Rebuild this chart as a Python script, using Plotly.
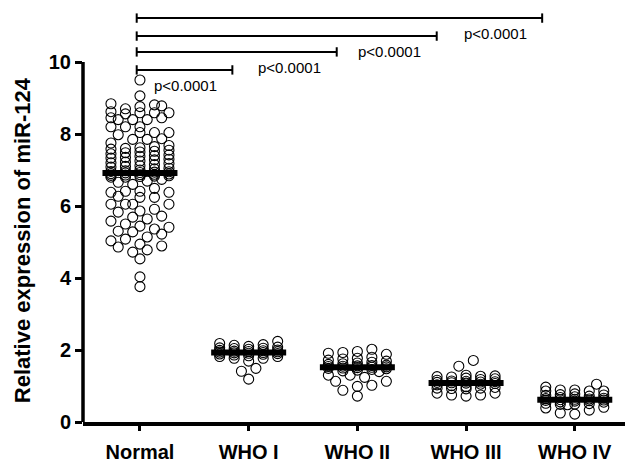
import numpy as np
import plotly.graph_objects as go

categories = ["Normal", "WHO I", "WHO II", "WHO III", "WHO IV"]

normal = [9.50, 9.06, 8.84, 8.81, 8.78, 8.76, 8.70, 8.62, 8.59, 8.59, 8.59, 8.56,
          8.45, 8.45, 8.40, 8.40, 8.40, 8.20, 8.20, 8.20, 8.04, 8.04, 8.04, 7.98,
          7.87, 7.85, 7.85,
          7.75, 7.68, 7.65, 7.62, 7.60, 7.58, 7.55, 7.52, 7.50, 7.48, 7.45, 7.42,
          7.40, 7.38, 7.35, 7.33, 7.30, 7.28, 7.25, 7.22, 7.20, 7.18, 7.15, 7.12,
          7.10, 7.08, 7.05, 7.03, 7.00, 6.98, 6.96, 6.95, 6.94, 6.93, 6.92,
          6.90, 6.89, 6.88, 6.87, 6.86, 6.85, 6.84, 6.83, 6.82, 6.80,
          6.80, 6.74, 6.69, 6.66, 6.60, 6.49, 6.41, 6.41, 6.38, 6.38, 6.27, 6.24,
          6.24, 6.05, 6.05, 6.05, 6.05, 5.91, 5.86, 5.83, 5.72, 5.69, 5.64, 5.58,
          5.50, 5.44, 5.41, 5.36, 5.30, 5.28, 5.22, 5.14, 5.08, 5.03, 4.94, 4.89,
          4.86, 4.78, 4.72, 4.53, 4.03, 3.76]
who1 = [2.24, 2.18, 2.15, 2.13, 2.10, 2.08, 2.06, 2.05, 2.04, 2.02, 2.00, 1.99,
        1.98, 1.97, 1.96, 1.95, 1.94, 1.93, 1.92, 1.91, 1.90, 1.89, 1.88, 1.86,
        1.84, 1.82, 1.82, 1.77, 1.77, 1.69, 1.49, 1.41, 1.19]
who2 = [2.02, 1.96, 1.93, 1.91, 1.88, 1.80, 1.77, 1.75, 1.72, 1.69, 1.66, 1.64,
        1.62, 1.60, 1.58, 1.57, 1.56, 1.55, 1.54, 1.53, 1.52, 1.51, 1.50, 1.49,
        1.48, 1.46, 1.44, 1.42, 1.40, 1.30, 1.30, 1.24, 1.13, 1.13, 1.02, 0.99,
        0.88, 0.72]
who3 = [1.71, 1.55, 1.30, 1.28, 1.27, 1.26, 1.25, 1.22, 1.20, 1.18, 1.16, 1.14,
        1.13, 1.12, 1.11, 1.10, 1.09, 1.08, 1.07, 1.05, 1.03, 1.01, 0.98, 0.96,
        0.94, 0.94, 0.93, 0.92, 0.80, 0.80, 0.75, 0.75, 0.72]
who4 = [1.05, 0.97, 0.89, 0.89, 0.86, 0.86, 0.86, 0.78, 0.76, 0.75, 0.74, 0.72,
        0.70, 0.68, 0.66, 0.65, 0.64, 0.63, 0.62, 0.61, 0.60, 0.59, 0.58, 0.56,
        0.55, 0.52, 0.51, 0.50, 0.49, 0.48, 0.41, 0.39, 0.33, 0.25, 0.22]
medians = [6.92, 1.93, 1.52, 1.08, 0.62]

p_labels = ["p<0.0001", "p<0.0001", "p<0.0001", "p<0.0001"]
bracket_end = [0.85, 1.81, 2.73, 3.70]
bracket_y = [9.78, 10.28, 10.72, 11.22]
y_title = "Relative expression of miR-124"

groups = [normal, who1, who2, who3, who4]

XR = [-0.524, 4.462]
YR = [0, 11.5]
PX_X = 542 / (XR[1] - XR[0])
PX_Y = 416 / (YR[1] - YR[0])


def swarm(vals, d=10.0, grid=7.25, nmax=4):
    """Simple beeswarm layout (pixel space) -> x offsets in data units."""
    vals = np.asarray(vals, dtype=float)
    ypx = vals * PX_Y
    cands = [0.0]
    for k in range(1, nmax + 1):
        cands += [k * grid, -k * grid]
    cols = [-4 * grid, -2 * grid, 0.0, 2 * grid, 4 * grid]
    placed = []
    offs = np.zeros(len(vals))
    flip = 1
    for i in np.argsort(ypx):
        best = None
        for c in cands:
            c = c * flip
            ok = all((c - px) ** 2 + (ypx[i] - py) ** 2 >= (d * 0.97) ** 2
                     for px, py in placed)
            if ok:
                best = c
                break
        if best is None:
            scores = []
            for c in cols:
                md = min(((c - px) ** 2 + (ypx[i] - py) ** 2) for px, py in placed)
                scores.append(md)
            best = cols[int(np.argmax(scores))]
        flip = -flip
        placed.append((best, ypx[i]))
        offs[i] = best
    return offs / PX_X


fig = go.Figure()
for gi, vals in enumerate(groups):
    xo = swarm(vals)
    fig.add_trace(go.Scatter(
        x=gi + xo, y=vals, mode="markers",
        marker=dict(symbol="circle-open", size=10, color="black",
                    line=dict(width=1.1, color="black")),
        showlegend=False, cliponaxis=False))

for gi, m in enumerate(medians):
    fig.add_trace(go.Scatter(x=[gi - 0.345, gi + 0.345], y=[m, m], mode="lines",
                             line=dict(color="black", width=6), showlegend=False))

shapes = []
shapes.append(dict(type="line", xref="paper", yref="y", x0=0, x1=0, y0=0, y1=10,
                   line=dict(color="black", width=3.5)))
tick_h = 0.13
for xe, yb in zip(bracket_end, bracket_y):
    x0 = -0.03
    shapes.append(dict(type="line", xref="x", yref="y", x0=x0, x1=xe, y0=yb, y1=yb,
                       line=dict(color="black", width=2)))
    for xx in (x0, xe):
        shapes.append(dict(type="line", xref="x", yref="y", x0=xx, x1=xx,
                           y0=yb - tick_h, y1=yb + tick_h,
                           line=dict(color="black", width=2)))

annotations = []
for lab, xe, yb in zip(p_labels, bracket_end, bracket_y):
    annotations.append(dict(x=xe - 0.43, y=yb - 0.44, xref="x", yref="y", text=lab,
                            showarrow=False, font=dict(size=15, color="black",
                                                       family="Liberation Sans, Arial")))
annotations.append(dict(x=-61 / 542, y=5.05, xref="paper", yref="y",
                        text="<b>%s</b>" % y_title, textangle=-90, showarrow=False,
                        xanchor="center", yanchor="middle",
                        font=dict(size=22, color="black",
                                  family="Liberation Sans, Arial")))

fig.update_layout(
    width=625, height=463,
    margin=dict(l=83, r=0, t=8, b=39),
    plot_bgcolor="white", paper_bgcolor="white",
    font=dict(family="Liberation Sans, Arial", color="black"),
    shapes=shapes, annotations=annotations,
    xaxis=dict(range=XR, tickvals=list(range(len(categories))),
               ticktext=["<b>%s</b>" % c for c in categories],
               tickfont=dict(size=20, color="black"),
               ticks="outside", ticklen=5, tickwidth=3, tickcolor="black",
               showline=True, linewidth=3.5, linecolor="black",
               showgrid=False, zeroline=False, ticklabelstandoff=4),
    yaxis=dict(range=YR, tickvals=[0, 2, 4, 6, 8, 10],
               ticktext=["<b>%d</b>" % v for v in [0, 2, 4, 6, 8, 10]],
               tickfont=dict(size=20, color="black"),
               ticks="outside", ticklen=7, tickwidth=3, tickcolor="black",
               showline=False, showgrid=False, zeroline=False),
)

fig.write_html("out.html")
